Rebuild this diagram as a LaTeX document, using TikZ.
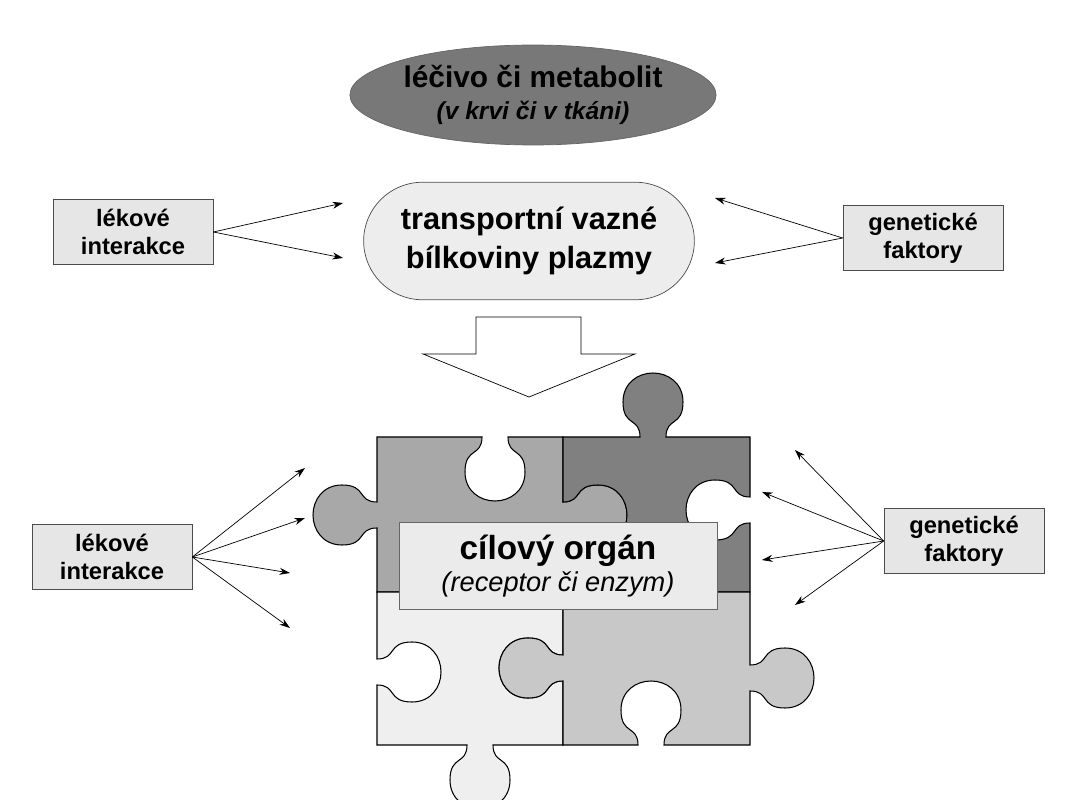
\documentclass[tikz,border=0pt]{standalone}
\usepackage{fontspec}
\setmainfont{Liberation Sans}
\usetikzlibrary{shapes.geometric,shapes.misc,arrows.meta}
\definecolor{drugdark}{RGB}{120,120,120}
\definecolor{boxgray}{RGB}{230,230,230}
\definecolor{pieceA}{RGB}{168,168,168}
\definecolor{pieceB}{RGB}{128,128,128}
\definecolor{pieceC}{RGB}{239,239,239}
\definecolor{pieceD}{RGB}{200,200,200}
% puzzle knobs: centre, edge position, walking direction, outward direction
\newcommand{\hknob}[4]{-- ({#1-13*#3},#2) .. controls ({#1-13*#3},{#2+20*#4}) and ({#1-30*#3},{#2+10*#4}) .. ({#1-30*#3},{#2+35*#4}) .. controls ({#1-30*#3},{#2+54*#4}) and ({#1-15*#3},{#2+64*#4}) .. (#1,{#2+64*#4}) .. controls ({#1+15*#3},{#2+64*#4}) and ({#1+30*#3},{#2+54*#4}) .. ({#1+30*#3},{#2+35*#4}) .. controls ({#1+30*#3},{#2+10*#4}) and ({#1+13*#3},{#2+20*#4}) .. ({#1+13*#3},#2)}
\newcommand{\vknob}[4]{-- (#1,{#2-13*#3}) .. controls ({#1+20*#4},{#2-13*#3}) and ({#1+10*#4},{#2-30*#3}) .. ({#1+35*#4},{#2-30*#3}) .. controls ({#1+54*#4},{#2-30*#3}) and ({#1+64*#4},{#2-15*#3}) .. ({#1+64*#4},#2) .. controls ({#1+64*#4},{#2+15*#3}) and ({#1+54*#4},{#2+30*#3}) .. ({#1+35*#4},{#2+30*#3}) .. controls ({#1+10*#4},{#2+30*#3}) and ({#1+20*#4},{#2+13*#3}) .. (#1,{#2+13*#3})}
\begin{document}
\begin{tikzpicture}[x=0.02cm, y=-0.02cm,
    factor/.style={rectangle, draw=black!70, fill=boxgray, align=center, minimum width=3.2cm, minimum height=1.3cm, font=\fontsize{13.5}{16}\selectfont\bfseries},
    link/.style={-{Stealth[length=6pt,width=4pt]}, thin},
    piece/.style={draw=black, line width=0.6pt}
]
    \useasboundingbox (0,0) rectangle (1066,800);

    % top: drug and plasma proteins
    \node[ellipse, draw=black!60, fill=drugdark, minimum width=6.8cm, minimum height=2cm, inner sep=0pt, align=center] (drug) at (533,95)
        {{\fontsize{17}{20}\selectfont\bfseries léčivo či metabolit}\\[6pt]{\fontsize{14}{17}\selectfont\bfseries\itshape (v krvi či v tkáni)}};
    \node[rounded rectangle, draw=black!70, fill=boxgray!70, minimum width=6.85cm, minimum height=2.35cm, align=center, font=\fontsize{17.5}{22}\selectfont\bfseries] (plasma) at (529,241)
        {transportní vazné\\bílkoviny plazmy};
    \node[factor] (drugint) at (133,232) {lékové\\interakce};
    \node[factor] (genes) at (923,238) {genetické\\faktory};
    \draw[link] (drugint.east) -- (343,203);
    \draw[link] (drugint.east) -- (343,258);
    \draw[link] (genes.west) -- (715,198);
    \draw[link] (genes.west) -- (715,263);

    % hollow arrow
    \draw[fill=white, thin] (476,317) -- (581,317) -- (581,354) -- (635,354) -- (529,397) -- (423,354) -- (476,354) -- cycle;

    % puzzle
    \draw[piece, fill=pieceA] (377,437) \hknob{495}{437}{1}{1} -- (563,437) \vknob{563}{515}{1}{1} -- (563,592) -- (377,592) \vknob{377}{515}{-1}{-1} -- cycle;
    \draw[piece, fill=pieceB] (563,437) \hknob{653}{437}{1}{-1} -- (750,437) \vknob{750}{510}{1}{-1} -- (750,592) -- (563,592) \vknob{563}{515}{-1}{1} -- cycle;
    \draw[piece, fill=pieceC] (377,592) -- (563,592) \vknob{563}{668}{1}{-1} -- (563,745) \hknob{480}{745}{-1}{1} -- (377,745) \vknob{377}{672}{-1}{1} -- cycle;
    \draw[piece, fill=pieceD] (563,592) -- (750,592) \vknob{750}{678}{1}{1} -- (750,745) \hknob{651}{745}{-1}{-1} -- (563,745) \vknob{563}{668}{-1}{-1} -- cycle;

    \node[rectangle, draw=black!60, fill=boxgray!80, minimum width=6.36cm, minimum height=1.74cm, align=center] (organ) at (558,566)
        {{\fontsize{19}{22}\selectfont\bfseries cílový orgán}\\[2pt]{\fontsize{15.5}{18}\selectfont\itshape (receptor či enzym)}};

    % bottom factors
    \node[factor] (drugint2) at (112,557) {lékové\\interakce};
    \node[factor] (genes2) at (964,541) {genetické\\faktory};
    \coordinate (l1) at (305,468);
    \coordinate (l2) at (305,518);
    \coordinate (l3) at (290,573);
    \coordinate (l4) at (290,628);
    \coordinate (r1) at (795,450);
    \coordinate (r2) at (762,492);
    \coordinate (r3) at (762,560);
    \coordinate (r4) at (795,605);
    \foreach \t in {l1,l2,l3,l4}
        \draw[link] (drugint2.east) -- (\t);
    \foreach \t in {r1,r2,r3,r4}
        \draw[link] (genes2.west) -- (\t);
\end{tikzpicture}
\end{document}
